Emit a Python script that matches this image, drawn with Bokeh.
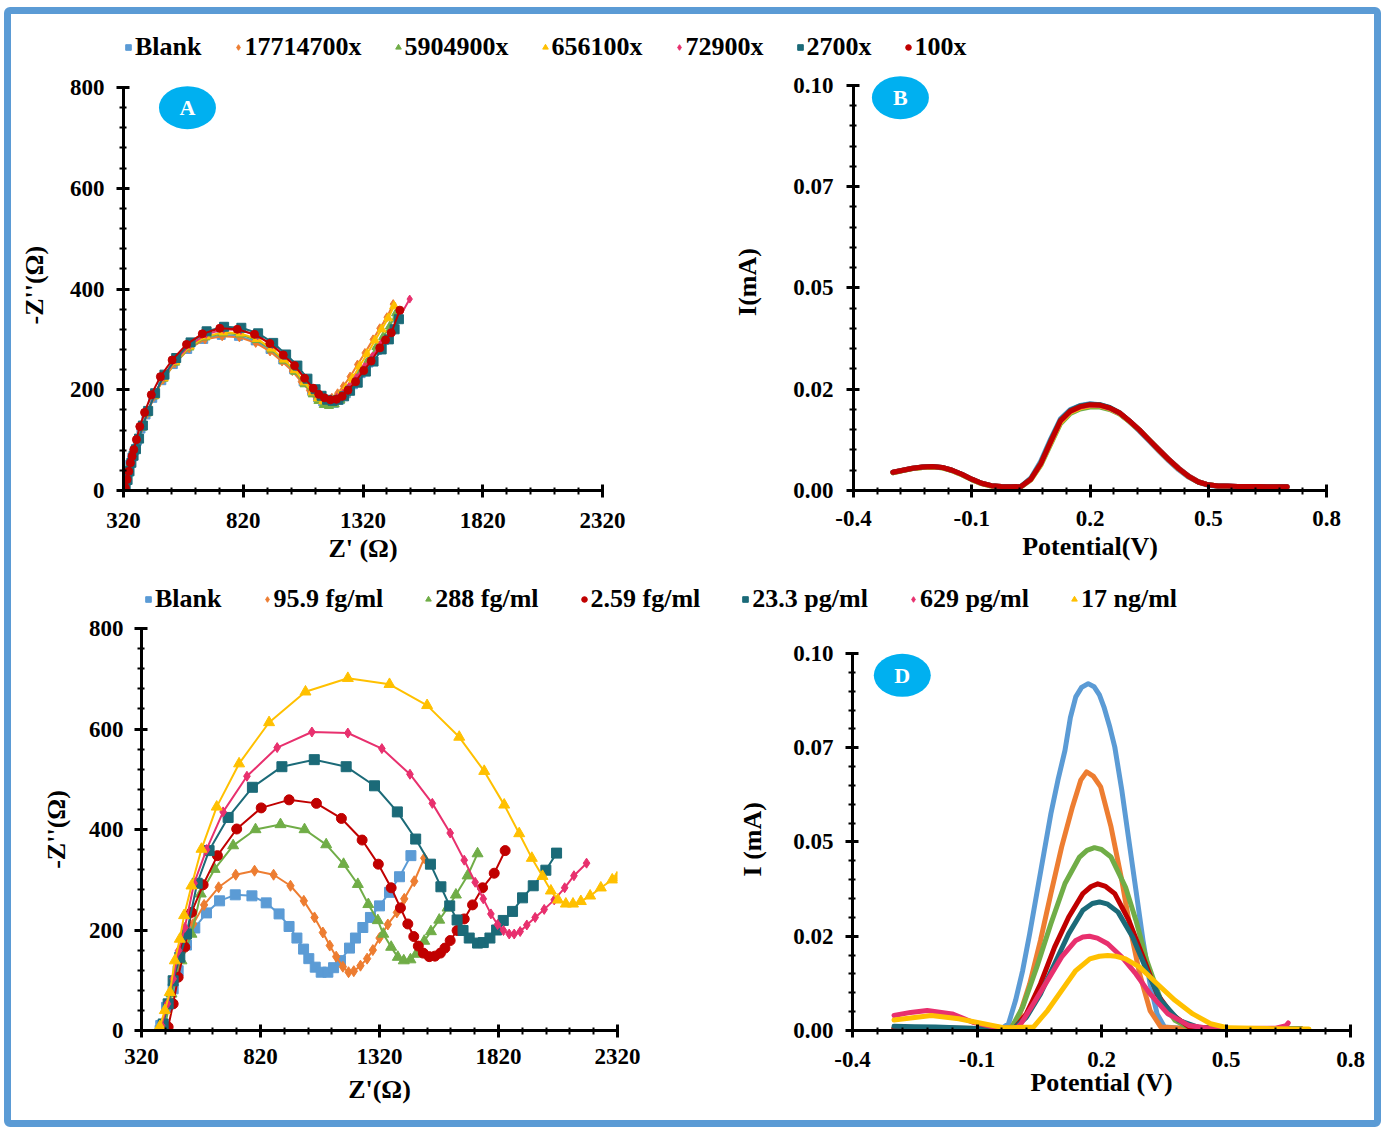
from bokeh.plotting import figure
from bokeh.models import FixedTicker, Range1d, Legend, LegendItem, Column, Row
from bokeh.embed import file_html
from bokeh.resources import INLINE
from bokeh.core.properties import value

FONT = "Liberation Serif"
BLUE = "#5B9BD5"; ORANGE = "#ED7D31"; GREEN = "#70AD47"; YELLOW = "#FFC000"
PINK = "#E8306E"; TEAL = "#1B6A78"; RED = "#C00000"
BADGE = "#00B0F0"; FRAME = "#5B9BD5"
NB = "\u00a0"

# ---------------- legend labels ----------------
top_labels = ["Blank", "17714700x", "5904900x", "656100x", "72900x", "2700x", "100x"]
mid_labels = ["Blank", "95.9 fg/ml", "288 fg/ml", "2.59 fg/ml", "23.3 pg/ml", "629 pg/ml", "17 ng/ml"]

# ---------------- Panel A (Nyquist, dilutions) ----------------
A_blank_x = [322,330,338,346,355,365,378,393,414,442,480,528,588,655,728,800,870,932,985,1030,1070,1105,1130,1152,1175,1200,1225,1250,1280,1312,1345,1380,1410,1440,1463]
A_blank_y = [2,18,35,52,66,79,98,122,150,183,218,250,280,300,308,306,297,280,259,240,216,197,184,176,172,173,180,192,210,232,253,278,298,318,342]
A_d1_x = [324,332,340,348,357,367,380,396,418,446,485,534,594,660,732,804,872,932,982,1025,1062,1096,1120,1143,1166,1190,1214,1238,1266,1297,1328,1362,1390,1420,1446]
A_d1_y = [4,20,37,54,67,80,100,124,152,186,220,252,282,300,306,304,293,276,256,237,216,199,188,182,180,184,193,207,226,250,273,300,322,344,370]
A_d2_x = [325,333,341,349,358,368,381,397,418,447,486,535,595,662,735,806,876,938,990,1036,1076,1110,1134,1156,1178,1202,1226,1250,1279,1310,1342,1376,1404,1432,1458]
A_d2_y = [3,19,36,53,67,80,100,125,153,187,222,254,284,304,312,310,299,280,258,236,211,191,178,170,168,171,179,193,212,235,258,285,305,326,352]
A_d3_x = [326,334,342,350,359,369,382,398,420,449,488,537,597,664,737,808,877,938,990,1035,1075,1108,1132,1154,1176,1200,1224,1248,1276,1306,1337,1370,1398,1425,1450]
A_d3_y = [4,21,38,55,68,81,101,126,154,188,223,256,286,306,314,312,301,282,260,239,215,195,183,177,176,180,189,203,223,247,271,298,320,342,366]
A_d4_x = [327,335,343,351,360,370,383,399,421,450,489,538,598,665,738,810,880,942,995,1041,1082,1116,1140,1163,1187,1211,1236,1261,1292,1326,1360,1396,1432,1470,1515]
A_d4_y = [5,22,39,56,69,82,102,127,156,190,226,259,289,310,320,318,307,289,267,245,221,201,190,184,182,185,193,206,224,246,267,292,315,342,380]
A_d5_x = [329,337,345,353,362,372,385,401,423,452,491,540,600,667,740,812,882,945,999,1046,1088,1122,1147,1170,1193,1217,1241,1266,1298,1332,1364,1398,1428,1452,1470]
A_d5_y = [4,21,38,55,69,82,103,129,158,193,230,263,294,316,325,323,312,293,270,248,222,201,188,180,178,180,187,198,214,236,256,280,300,320,340]
A_d6_x = [328,335,342,349,356,363,374,388,408,436,474,523,583,649,722,795,867,931,987,1034,1076,1112,1135,1159,1184,1209,1233,1257,1289,1323,1354,1390,1414,1438,1474]
A_d6_y = [5,22,38,55,68,81,101,127,155,190,226,259,290,311,322,320,310,292,269,248,223,203,191,184,180,181,187,199,216,238,257,283,299,313,358]

# ---------------- Panel B (DPV, dilutions) ----------------
B_potential = [-0.300,-0.275,-0.250,-0.225,-0.200,-0.175,-0.150,-0.125,-0.100,-0.075,-0.050,-0.025,0.000,0.025,0.050,0.075,0.100,0.125,0.150,0.175,0.200,0.225,0.250,0.275,0.300,0.325,0.350,0.375,0.400,0.425,0.450,0.475,0.500,0.525,0.550,0.575,0.600,0.625,0.650,0.675,0.700]
B_blank = [0.0044,0.0049,0.0054,0.0057,0.0058,0.0056,0.0049,0.0039,0.0027,0.0017,0.0011,0.0009,0.0008,0.0010,0.0031,0.0072,0.0127,0.0177,0.0200,0.0210,0.0214,0.0212,0.0204,0.0190,0.0170,0.0147,0.0122,0.0097,0.0073,0.0051,0.0033,0.0020,0.0013,0.0010,0.0010,0.0009,0.0009,0.0009,0.0008,0.0008,0.0008]
B_d1 = [0.0045,0.0050,0.0055,0.0058,0.0059,0.0057,0.0050,0.0040,0.0028,0.0018,0.0012,0.0010,0.0009,0.0010,0.0029,0.0068,0.0122,0.0173,0.0197,0.0208,0.0212,0.0211,0.0204,0.0191,0.0171,0.0149,0.0124,0.0099,0.0075,0.0053,0.0034,0.0021,0.0014,0.0011,0.0010,0.0010,0.0010,0.0009,0.0009,0.0009,0.0009]
B_d2 = [0.0044,0.0049,0.0054,0.0057,0.0058,0.0056,0.0049,0.0039,0.0027,0.0017,0.0011,0.0009,0.0008,0.0009,0.0026,0.0062,0.0114,0.0165,0.0190,0.0201,0.0206,0.0206,0.0200,0.0189,0.0170,0.0149,0.0125,0.0101,0.0077,0.0055,0.0036,0.0022,0.0014,0.0011,0.0010,0.0010,0.0009,0.0009,0.0009,0.0009,0.0008]
B_d3 = [0.0044,0.0049,0.0054,0.0057,0.0058,0.0056,0.0049,0.0039,0.0027,0.0017,0.0011,0.0009,0.0008,0.0009,0.0027,0.0064,0.0117,0.0168,0.0193,0.0204,0.0209,0.0209,0.0202,0.0190,0.0171,0.0150,0.0125,0.0100,0.0076,0.0054,0.0035,0.0021,0.0014,0.0011,0.0010,0.0010,0.0009,0.0009,0.0009,0.0009,0.0008]
B_d4 = [0.0045,0.0050,0.0055,0.0058,0.0059,0.0057,0.0050,0.0040,0.0028,0.0018,0.0012,0.0010,0.0009,0.0010,0.0028,0.0066,0.0119,0.0171,0.0195,0.0206,0.0211,0.0210,0.0203,0.0191,0.0172,0.0150,0.0125,0.0101,0.0077,0.0055,0.0036,0.0022,0.0014,0.0011,0.0011,0.0010,0.0010,0.0010,0.0009,0.0009,0.0009]
B_d5 = [0.0045,0.0050,0.0055,0.0058,0.0059,0.0057,0.0050,0.0040,0.0028,0.0018,0.0012,0.0010,0.0009,0.0010,0.0029,0.0068,0.0123,0.0174,0.0198,0.0209,0.0213,0.0212,0.0205,0.0192,0.0172,0.0150,0.0125,0.0100,0.0076,0.0054,0.0035,0.0021,0.0014,0.0011,0.0011,0.0010,0.0010,0.0010,0.0009,0.0009,0.0009]
B_d6 = [0.0045,0.0050,0.0055,0.0058,0.0059,0.0057,0.0050,0.0040,0.0028,0.0018,0.0012,0.0010,0.0009,0.0010,0.0028,0.0066,0.0120,0.0172,0.0196,0.0207,0.0212,0.0211,0.0204,0.0192,0.0172,0.0150,0.0125,0.0100,0.0076,0.0054,0.0035,0.0021,0.0014,0.0011,0.0011,0.0010,0.0010,0.0010,0.0009,0.0009,0.0009]

# ---------------- Panel C (Nyquist, concentrations) ----------------
C_blank_x = [398,401,425,453,474,509,544,593,648,714,784,844,898,940,973,1001,1023,1050,1075,1103,1127,1156,1194,1219,1250,1282,1320,1362,1404,1452]
C_blank_y = [0,10,46,83,119,170,204,234,258,270,268,254,232,207,184,162,143,126,116,116,125,139,164,184,205,225,248,275,306,348]
C_c1_x = [405,411,432,460,495,537,583,644,716,795,875,946,1002,1047,1082,1111,1138,1166,1190,1212,1240,1268,1292,1320,1355,1393,1424,1466,1508]
C_c1_y = [0,8,50,103,159,212,250,285,310,318,310,288,258,225,195,169,147,127,116,118,129,143,160,184,211,235,262,297,343]
C_c2_x = [412,418,446,488,530,569,627,705,799,904,1005,1096,1169,1229,1273,1313,1336,1369,1397,1422,1450,1474,1508,1536,1571,1606,1641,1690,1732]
C_c2_y = [0,7,73,139,192,272,321,368,400,410,400,370,331,291,251,219,192,166,146,139,141,152,178,197,220,244,270,308,352]
C_c3_x = [425,432,453,474,502,530,579,639,720,823,940,1055,1160,1247,1315,1369,1408,1439,1464,1483,1504,1529,1553,1576,1595,1617,1646,1676,1711,1753,1802,1848]
C_c3_y = [0,7,53,106,166,235,290,348,401,443,459,452,422,379,331,284,244,212,187,168,154,147,148,154,164,179,199,222,250,284,313,358]
C_c4_x = [405,411,432,453,481,509,554,604,684,786,910,1046,1180,1299,1395,1472,1534,1578,1615,1646,1671,1697,1732,1756,1784,1812,1840,1879,1921,1966,2019,2064]
C_c4_y = [0,13,53,99,146,192,293,358,424,484,525,539,525,487,435,381,331,286,248,220,199,184,174,175,184,200,219,237,264,288,319,353]
C_c5_x = [398,404,429,453,476,502,541,593,663,763,890,1036,1187,1330,1448,1542,1617,1676,1722,1756,1788,1816,1841,1865,1886,1911,1939,1974,2012,2054,2098,2137,2190]
C_c5_y = [0,10,53,103,159,205,293,360,435,506,563,594,592,561,510,452,393,339,295,262,232,211,199,192,192,197,210,225,241,260,284,308,333]
C_c6_x = [392,397,418,439,460,481,499,530,572,636,730,856,1009,1187,1362,1520,1655,1760,1844,1907,1960,2005,2040,2070,2103,2133,2166,2205,2250,2298,2318]
C_c6_y = [0,8,40,76,139,182,229,288,361,445,531,613,674,701,689,647,584,516,449,392,343,307,278,260,252,252,257,268,284,300,304]

# ---------------- Panel D (DPV, concentrations) ----------------
D_blank_x = [-0.30,-0.20,-0.10,-0.041,-0.024,-0.007,0.010,0.027,0.044,0.061,0.078,0.095,0.112,0.125,0.138,0.152,0.168,0.182,0.195,0.206,0.220,0.232,0.249,0.266,0.283,0.300,0.317,0.334,0.352,0.40,0.50,0.60,0.68]
D_blank_y = [0.0006,0.0006,0.0005,0.0005,0.0018,0.0080,0.0159,0.0257,0.0363,0.0469,0.0575,0.0664,0.0743,0.0830,0.0885,0.0910,0.0920,0.0912,0.0890,0.0858,0.0805,0.0752,0.0637,0.0504,0.0372,0.0239,0.0124,0.0044,0.0009,0.0005,0.0005,0.0005,0.0005]
D_c1_x = [-0.30,-0.20,-0.10,-0.02,0.001,0.027,0.053,0.078,0.104,0.130,0.150,0.164,0.180,0.198,0.223,0.249,0.270,0.292,0.317,0.343,0.40,0.50,0.60,0.68]
D_c1_y = [0.0006,0.0006,0.0005,0.0005,0.0035,0.0124,0.0239,0.0363,0.0487,0.0593,0.0664,0.0686,0.0675,0.0646,0.0540,0.0398,0.0266,0.0150,0.0053,0.0009,0.0005,0.0005,0.0005,0.0005]
D_c2_x = [-0.30,-0.20,-0.10,-0.04,-0.016,0.010,0.044,0.078,0.112,0.147,0.165,0.183,0.200,0.223,0.258,0.283,0.309,0.343,0.377,0.411,0.50,0.60,0.68]
D_c2_y = [0.0006,0.0006,0.0005,0.0005,0.0009,0.0062,0.0168,0.0283,0.0390,0.0460,0.0478,0.0485,0.0480,0.0460,0.0380,0.0292,0.0186,0.0080,0.0027,0.0007,0.0005,0.0005,0.0005]
D_c3_x = [-0.30,-0.20,-0.10,-0.03,-0.007,0.019,0.053,0.087,0.121,0.155,0.175,0.191,0.210,0.232,0.266,0.300,0.334,0.369,0.411,0.50,0.60,0.68]
D_c3_y = [0.0006,0.0006,0.0005,0.0005,0.0009,0.0044,0.0124,0.0221,0.0301,0.0363,0.0382,0.0389,0.0382,0.0363,0.0292,0.0195,0.0097,0.0044,0.0009,0.0005,0.0005,0.0005]
D_c4_x = [-0.30,-0.25,-0.20,-0.15,-0.10,-0.03,-0.007,0.019,0.053,0.087,0.121,0.155,0.178,0.195,0.215,0.240,0.275,0.309,0.343,0.386,0.437,0.50,0.60,0.68]
D_c4_y = [0.0011,0.0010,0.0009,0.0007,0.0005,0.0005,0.0009,0.0035,0.0097,0.0177,0.0257,0.0319,0.0337,0.0341,0.0335,0.0314,0.0248,0.0159,0.0080,0.0027,0.0007,0.0005,0.0005,0.0005]
D_c5_x = [-0.30,-0.26,-0.22,-0.16,-0.11,-0.058,-0.007,0.006,0.036,0.070,0.104,0.138,0.155,0.171,0.190,0.215,0.249,0.283,0.317,0.360,0.411,0.471,0.55,0.62,0.645,0.65]
D_c5_y = [0.0040,0.0048,0.0053,0.0044,0.0022,0.0009,0.0004,0.0018,0.0071,0.0133,0.0195,0.0239,0.0248,0.0250,0.0245,0.0230,0.0195,0.0150,0.0097,0.0044,0.0013,0.0004,0.0005,0.0006,0.0013,0.0020]
D_c6_x = [-0.30,-0.21,-0.144,-0.084,-0.033,0.036,0.070,0.104,0.138,0.172,0.195,0.215,0.235,0.258,0.292,0.334,0.377,0.420,0.463,0.505,0.60,0.70]
D_c6_y = [0.0028,0.0040,0.0031,0.0018,0.0007,0.0009,0.0053,0.0106,0.0159,0.0190,0.0197,0.0199,0.0197,0.0190,0.0168,0.0124,0.0080,0.0044,0.0018,0.0007,0.0005,0.0004]

# ---------------- ticks ----------------
Z_ticks = [320, 820, 1320, 1820, 2320]
Zim_ticks = [0, 200, 400, 600, 800]
E_ticks = [-0.4, -0.1, 0.2, 0.5, 0.8]
E_labels = ["-0.4", "-0.1", "0.2", "0.5", "0.8"]
I_ticks = [0.0, 0.025, 0.05, 0.075, 0.1]
I_labels = ["0.00", "0.02", "0.05", "0.07", "0.10"]

Z_minor = [320 + 100 * k for k in range(21)]
Zim_minor = [40 * k for k in range(21)]
E_minor = [-0.4 + 0.06 * k for k in range(21)]
I_minor = [0.005 * k for k in range(21)]


def make_fig(w, h, xr, yr, ybounds, ml, mr, mt, mb):
    p = figure(width=w, height=h, x_range=Range1d(*xr), y_range=Range1d(*yr),
               output_backend="svg", toolbar_location=None,
               min_border_left=ml, min_border_right=mr, min_border_top=mt, min_border_bottom=mb)
    p.grid.visible = False
    p.outline_line_color = None
    p.background_fill_color = "white"
    p.border_fill_color = "white"
    p.yaxis.bounds = ybounds
    return p


def style(p, xt, xm, yt, ym, xlab, ylab, xover, yover, xls, xals, yls, yals):
    p.xaxis.ticker = FixedTicker(ticks=xt, minor_ticks=xm)
    p.yaxis.ticker = FixedTicker(ticks=yt, minor_ticks=ym)
    if xover:
        p.xaxis.major_label_overrides = xover
    if yover:
        p.yaxis.major_label_overrides = yover
    p.xaxis.axis_label = xlab
    p.yaxis.axis_label = ylab
    p.xaxis.major_label_standoff = xls
    p.xaxis.axis_label_standoff = xals
    p.yaxis.major_label_standoff = yls
    p.yaxis.axis_label_standoff = yals
    for ax in (p.xaxis[0], p.yaxis[0]):
        ax.axis_line_width = 3
        ax.axis_line_color = "black"
        ax.major_tick_line_width = 3
        ax.major_tick_line_color = "black"
        ax.minor_tick_line_width = 2
        ax.minor_tick_line_color = "black"
        ax.major_tick_in = 6
        ax.major_tick_out = 7
        ax.minor_tick_in = 3
        ax.minor_tick_out = 4
        ax.major_label_text_font = FONT
        ax.major_label_text_font_style = "bold"
        ax.major_label_text_font_size = "23px"
        ax.major_label_text_color = "black"
        ax.axis_label_text_font = FONT
        ax.axis_label_text_font_style = "bold"
        ax.axis_label_text_font_size = "26px"
        ax.axis_label_text_color = "black"


def badge(p, x, y, letter):
    p.ellipse(x=[x], y=[y], width=57, height=43, width_units="screen", height_units="screen",
              fill_color=BADGE, line_color=None)
    p.text(x=[x], y=[y], text=[letter], text_align="center", text_baseline="middle",
           text_color="white", text_font=value(FONT), text_font_style="bold", text_font_size="22px")


def legend_fig(w, h, labels, colors, markers, x0, y0, spacing):
    f = figure(width=w, height=h, x_range=Range1d(0, 1), y_range=Range1d(0, 1),
               output_backend="svg", toolbar_location=None,
               x_axis_location=None, y_axis_location=None,
               min_border_left=0, min_border_right=0, min_border_top=0, min_border_bottom=0)
    f.grid.visible = False
    f.outline_line_color = None
    f.background_fill_color = "white"
    f.border_fill_color = "white"
    items = []
    for lab, c, m in zip(labels, colors, markers):
        r = f.scatter(x=[-10], y=[-10], marker=m, size=7, fill_color=c, line_color=c)
        items.append(LegendItem(label=lab, renderers=[r]))
    leg = Legend(items=items, orientation="horizontal", location=(x0, y0),
                 label_text_font=FONT, label_text_font_style="bold", label_text_font_size="26px",
                 label_text_color="black", glyph_width=14, glyph_height=14, label_standoff=0,
                 spacing=spacing, padding=0, margin=0, border_line_color=None,
                 background_fill_alpha=0)
    f.add_layout(leg)
    return f


top_colors = [BLUE, ORANGE, GREEN, YELLOW, PINK, TEAL, RED]
top_markers = ["square", "diamond", "triangle", "triangle", "diamond", "square", "circle"]
mid_colors = [BLUE, ORANGE, GREEN, RED, TEAL, PINK, YELLOW]
mid_markers = ["square", "diamond", "triangle", "circle", "square", "diamond", "triangle"]

leg1 = legend_fig(1363, 56, top_labels, top_colors, top_markers, 110, 8, 29)
leg2 = legend_fig(1363, 42, mid_labels, mid_colors, mid_markers, 130, -2, 38)

# ---------------- Panel A ----------------
pA = make_fig(679, 500, (320, 2320), (0, 827.8), (0, 800), 112, 88, 3, 80)
style(pA, Z_ticks, Z_minor, Zim_ticks, Zim_minor, "Z' (\u03a9)", "-Z''(\u03a9)" + NB, None, None, 15, 3, 12, 18)
A_series = [(A_blank_x, A_blank_y, BLUE, "square", 8),
            (A_d1_x, A_d1_y, ORANGE, "diamond", 9),
            (A_d2_x, A_d2_y, GREEN, "triangle", 9),
            (A_d3_x, A_d3_y, YELLOW, "triangle", 9),
            (A_d4_x, A_d4_y, PINK, "diamond", 8),
            (A_d5_x, A_d5_y, TEAL, "square", 9),
            (A_d6_x, A_d6_y, RED, "circle", 8)]
for xs, ys, c, m, s in A_series:
    pA.line(xs, ys, line_color=c, line_width=2)
    pA.scatter(xs, ys, marker=m, size=s, fill_color=c, line_color=c)
badge(pA, 587, 760, "A")

# ---------------- Panel B ----------------
pB = make_fig(684, 500, (-0.4, 0.8), (0, 0.10296), (0, 0.1), 163, 48, 3, 80)
style(pB, E_ticks, E_minor, I_ticks, I_minor, "Potential(V)", "I(mA)",
      dict(zip(E_ticks, E_labels)), dict(zip(I_ticks, I_labels)), 13, 3, 13, 28)
for ys, c in [(B_blank, BLUE), (B_d1, ORANGE), (B_d2, GREEN), (B_d3, YELLOW),
              (B_d4, PINK), (B_d5, TEAL), (B_d6, RED)]:
    pB.line(B_potential, ys, line_color=c, line_width=5, line_join="round", line_cap="round")
badge(pB, -0.281, 0.097, "B")

# ---------------- Panel C ----------------
pC = make_fig(689, 508, (320, 2320), (0, 800), (0, 800), 130, 83, 16, 90)
style(pC, Z_ticks, Z_minor, Zim_ticks, Zim_minor, "Z'(\u03a9)", "-Z''(\u03a9)", None, None, 11, 8, 11, 15)
C_series = [(C_blank_x, C_blank_y, BLUE, "square", 10),
            (C_c1_x, C_c1_y, ORANGE, "diamond", 11),
            (C_c2_x, C_c2_y, GREEN, "triangle", 11),
            (C_c3_x, C_c3_y, RED, "circle", 10),
            (C_c4_x, C_c4_y, TEAL, "square", 10),
            (C_c5_x, C_c5_y, PINK, "diamond", 10),
            (C_c6_x, C_c6_y, YELLOW, "triangle", 11)]
for xs, ys, c, m, s in C_series:
    pC.line(xs, ys, line_color=c, line_width=2)
    pC.scatter(xs, ys, marker=m, size=s, fill_color=c, line_color=c)

# ---------------- Panel D ----------------
pD = make_fig(674, 508, (-0.4, 0.8), (0, 0.10663), (0, 0.1), 152, 24, 16, 90)
style(pD, E_ticks, E_minor, I_ticks, I_minor, "Potential (V)", "I (mA)" + NB + NB + NB,
      dict(zip(E_ticks, E_labels)), dict(zip(I_ticks, I_labels)), 14, -2, 12, 23)
for xs, ys, c in [(D_blank_x, D_blank_y, BLUE), (D_c1_x, D_c1_y, ORANGE), (D_c2_x, D_c2_y, GREEN),
                  (D_c3_x, D_c3_y, RED), (D_c4_x, D_c4_y, TEAL), (D_c5_x, D_c5_y, PINK),
                  (D_c6_x, D_c6_y, YELLOW)]:
    pD.line(xs, ys, line_color=c, line_width=5, line_join="round", line_cap="round")
badge(pD, -0.280, 0.0942, "D")

layout = Column(children=[leg1, Row(children=[pA, pB]), leg2, Row(children=[pC, pD])],
                styles={"border": "7px solid " + FRAME, "border-radius": "6px",
                        "background-color": "white", "margin": "7px 0px 0px 4px"})

open("out.html", "w").write(file_html(layout, INLINE))
